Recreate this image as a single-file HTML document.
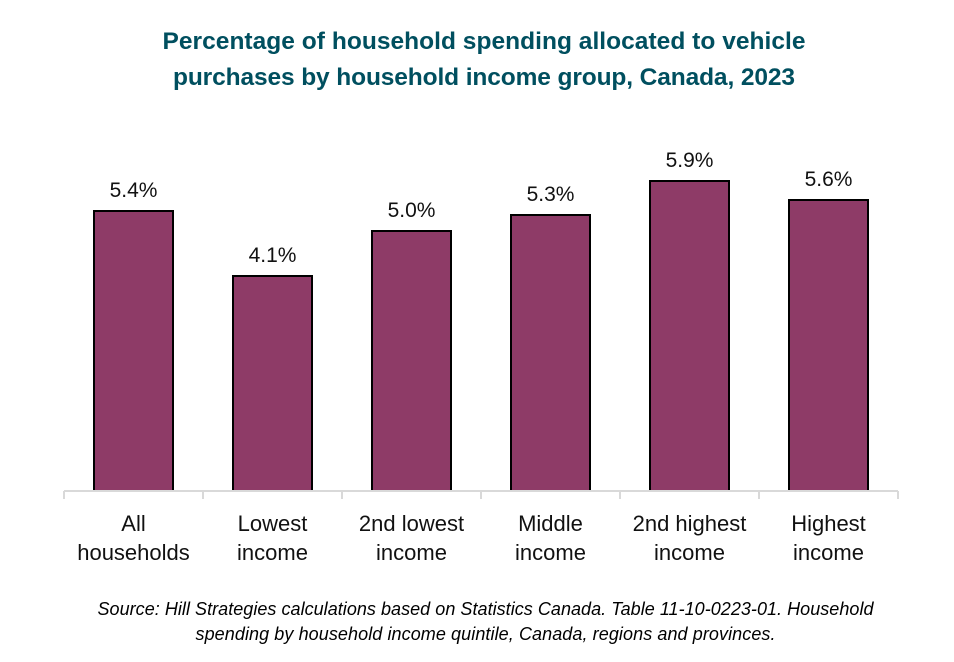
<!DOCTYPE html>
<html lang="en">
<head>
<meta charset="utf-8">
<title>Vehicle purchases by household income group</title>
<style>
html,body{margin:0;padding:0;background:#fff;}
body{width:954px;height:662px;overflow:hidden;}
svg{display:block;font-family:"Liberation Sans",sans-serif;}
</style>
</head>
<body>
<svg id="chart" width="954" height="662" viewBox="0 0 954 662" xmlns="http://www.w3.org/2000/svg">
  <rect x="0" y="0" width="954" height="662" fill="#ffffff"/>
  <g fill="#004F5F" font-size="24.5" font-weight="bold" text-anchor="middle">
    <text x="484" y="49" textLength="643" lengthAdjust="spacing">Percentage of household spending allocated to vehicle</text>
    <text x="484" y="85" textLength="622" lengthAdjust="spacing">purchases by household income group, Canada, 2023</text>
  </g>
  <g id="plot"></g>
  <g fill="#000000" font-size="18" font-style="italic" text-anchor="middle">
    <text x="485.5" y="615" textLength="776" lengthAdjust="spacing">Source: Hill Strategies calculations based on Statistics Canada. Table 11-10-0223-01. Household</text>
    <text x="485.5" y="640" textLength="580" lengthAdjust="spacing">spending by household income quintile, Canada, regions and provinces.</text>
  </g>
</svg>
<script>
const categoryLine1 = ["All", "Lowest", "2nd lowest", "Middle", "2nd highest", "Highest"];
const categoryLine2 = ["households", "income", "income", "income", "income", "income"];
const seriesValues = [5.37, 4.12, 4.98, 5.29, 5.94, 5.58];

const NS = "http://www.w3.org/2000/svg";
const plot = document.getElementById("plot");
const axisLeft = 64, axisRight = 898, baseline = 491, unitHeight = 52.2;
const band = (axisRight - axisLeft) / categoryLine1.length;
const barWidth = 79;

function xCenter(i) { return axisLeft + band * (i + 0.5); }
function yValue(v) { return baseline - v * unitHeight; }

function add(tag, attrs, parent) {
  const el = document.createElementNS(NS, tag);
  for (const k in attrs) el.setAttribute(k, attrs[k]);
  (parent || plot).appendChild(el);
  return el;
}

seriesValues.forEach(function (v, i) {
  const cx = xCenter(i);
  const y = Math.round(yValue(v));
  const bar = add("rect", { x: cx - barWidth / 2, y: y, width: barWidth, height: baseline - y, fill: "#8E3B67", stroke: "#000000", "stroke-width": 2 });
  
  

  const label = add("text", { x: cx, y: y - 14, "text-anchor": "middle", "font-size": 21, fill: "#111111" });
  
  
  label.textContent = v.toFixed(1) + "%";
});

const axisLine = add("line", { x1: axisLeft, x2: axisRight, y1: baseline, y2: baseline, stroke: "#D9D9D9", "stroke-width": 2 });



for (let i = 0; i <= categoryLine1.length; i++) {
  const tx = axisLeft + band * i;
  const tick = add("line", { x1: tx, x2: tx, y1: baseline, y2: baseline + 8, stroke: "#D9D9D9", "stroke-width": 2 });
  
  
}

categoryLine1.forEach(function (name, i) {
  const cx = xCenter(i);
  const t1 = add("text", { x: cx, y: 531, "text-anchor": "middle", "font-size": 22, fill: "#111111" });
  
  
  t1.textContent = name;

  const t2 = add("text", { x: cx, y: 560, "text-anchor": "middle", "font-size": 22, fill: "#111111" });
  
  
  t2.textContent = categoryLine2[i];
});
</script>
</body>
</html>
